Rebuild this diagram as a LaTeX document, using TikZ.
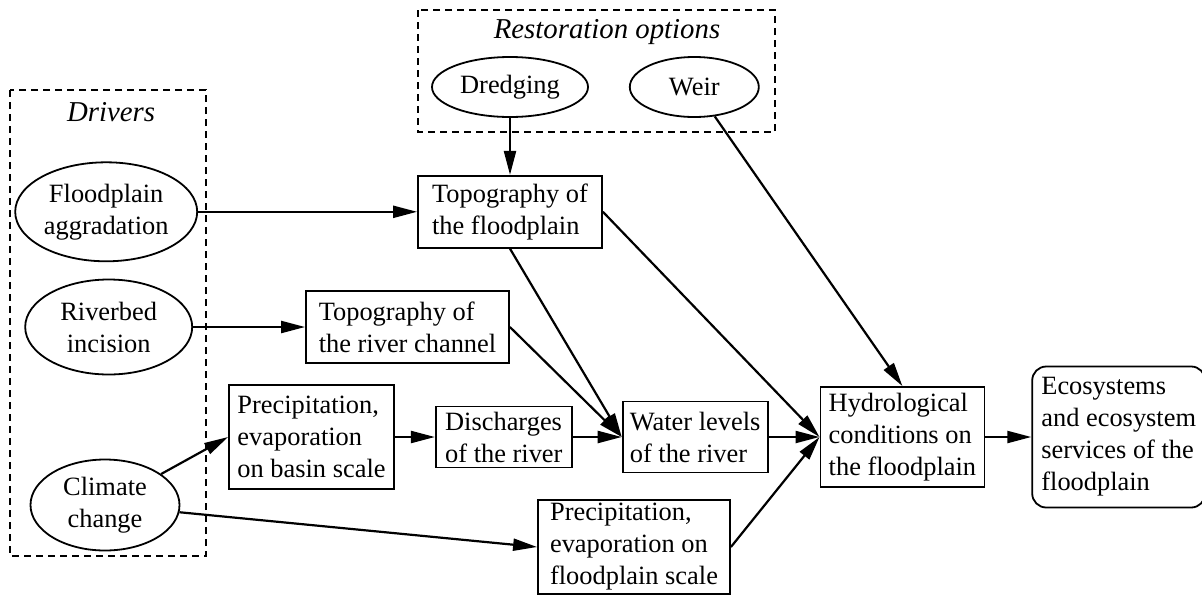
\documentclass[tikz,border=0pt]{standalone}
\usepackage{fontspec}
\setmainfont{Liberation Serif}
\usetikzlibrary{shapes.geometric, arrows.meta, positioning}

\begin{document}
\begin{tikzpicture}[
    x=1pt, y=1pt,
    block/.style={rectangle, draw, line width=0.9pt, align=left, inner xsep=3pt, inner ysep=1pt, font=\fontsize{13.2}{16}\selectfont},
    factor/.style={ellipse, draw, line width=0.9pt, align=center, inner sep=0pt, font=\fontsize{13.2}{16}\selectfont},
    cluster/.style={draw, line width=0.9pt, dash pattern=on 3.5pt off 2.5pt},
    title/.style={font=\fontsize{14.4}{17}\selectfont\itshape},
    arrow/.style={-{Triangle[length=12pt, width=6pt]}, line width=1.1pt}
]
    \useasboundingbox (0,0) rectangle (601,-297.5);

    % Restoration options
    \node (dredging) [factor, minimum width=78pt, minimum height=30pt] at (255,-43.5) {Dredging};
    \node (weir) [factor, minimum width=64.5pt, minimum height=30pt, right=20pt of dredging] {Weir};
    \node (topoFlood) [block, minimum width=92pt, minimum height=36pt, below=28.5pt of dredging] {Topography of\\the floodplain};

    % Drivers and the chain to the floodplain
    \node (floodAgg) [factor, minimum width=91pt, minimum height=49.5pt, left=109.5pt of topoFlood] {Floodplain\\aggradation};
    \node (topoRiver) [block, minimum width=101.5pt, minimum height=36pt] at (203.75,-163.5) {Topography of\\the river channel};
    \node (riverbed) [factor, minimum width=83.5pt, minimum height=47.5pt, left=56pt of topoRiver] {Riverbed\\incision};
    \node (precipBasin) [block, minimum width=82.5pt, minimum height=52pt] at (155.75,-218.5) {Precipitation,\\evaporation\\on basin scale};
    \node (discharge) [block, minimum width=68pt, minimum height=30.5pt, right=20pt of precipBasin] {Discharges\\of the river};
    \node (water) [block, minimum width=72.5pt, minimum height=35.5pt, right=24.5pt of discharge] {Water levels\\of the river};
    \node (hydro) [block, minimum width=82pt, minimum height=50pt, right=25.5pt of water] {Hydrological\\conditions on\\the floodplain};
    \node (ecosys) [block, rounded corners=7pt, minimum width=86.5pt, minimum height=70.5pt, right=23pt of hydro] {Ecosystems\\and ecosystem\\services of the\\floodplain};
    \node (climate) [factor, minimum width=74.5pt, minimum height=45.5pt] at (52.5,-252.5) {Climate\\change};
    \node (precipFlood) [block, minimum width=96pt, minimum height=47pt] at (317,-273.5) {Precipitation,\\evaporation on\\floodplain scale};

    % Clusters
    \draw [cluster] (5,-45) rectangle (103,-278);
    \node (driversTitle) [title] at (55.5,-56) {Drivers};
    \draw [cluster] (209,-5) rectangle (387.5,-66);
    \node (restoreTitle) [title] at (303.5,-16) {Restoration options};

    % Connecting Arrows
    \draw [arrow] (dredging) -- (topoFlood);
    \draw [arrow] (weir) -- (hydro.north);
    \draw [arrow] (floodAgg) -- (topoFlood);
    \draw [arrow] (riverbed) -- (topoRiver);
    \draw [arrow] (climate) -- (precipBasin.west);
    \draw [arrow] (climate) -- (precipFlood.west);
    \draw [arrow] (precipBasin) -- (discharge);
    \draw [arrow] (discharge) -- (water);
    \draw [arrow] (topoFlood.south) -- (water.west);
    \draw [arrow] (topoRiver.east) -- (water.west);
    \draw [arrow] (topoFlood.east) -- (hydro.west);
    \draw [arrow] (water) -- (hydro);
    \draw [arrow] (precipFlood.east) -- (hydro.west);
    \draw [arrow] (hydro) -- (ecosys);

\end{tikzpicture}
\end{document}
